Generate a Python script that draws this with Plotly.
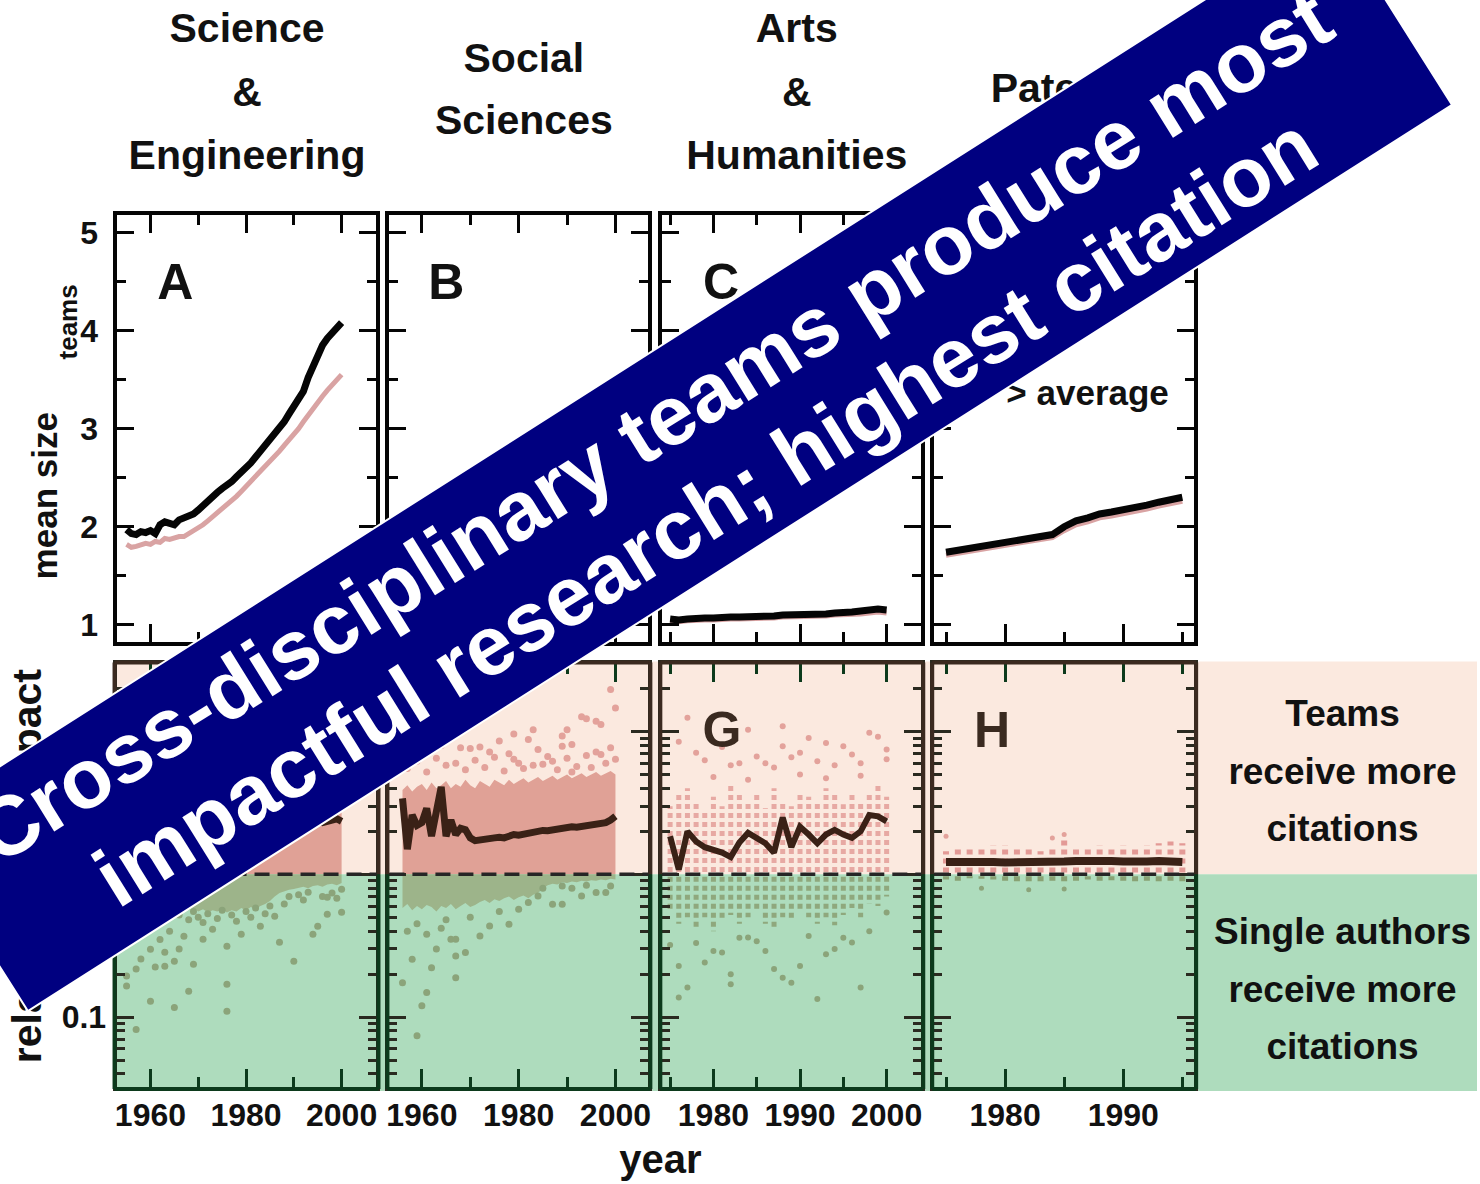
import numpy as np
import plotly.graph_objects as go

W, H = 1480, 1184
FONT = "Liberation Sans, Arial, Helvetica, sans-serif"

# ---------------- DATA ----------------
years_se = list(range(1955, 2001))
years_ss = list(range(1956, 2001))
years_ah = list(range(1975, 2001))
years_pat = list(range(1975, 1996))

# top row: mean team size (all teams = black, high-impact teams = pink)
se_size_all = [1.97, 1.93, 1.92, 1.95, 1.94, 1.96, 1.93, 2.02, 2.05, 2.04,
               2.02, 2.07, 2.09, 2.10, 2.13, 2.17, 2.22, 2.27, 2.31, 2.35,
               2.39, 2.42, 2.46, 2.51, 2.55, 2.60, 2.65, 2.71, 2.77, 2.82,
               2.88, 2.94, 3.00, 3.07, 3.15, 3.23, 3.30, 3.38, 3.52, 3.63,
               3.76, 3.85, 3.92, 3.97, 4.02, 4.08]
se_size_hi = [1.82, 1.79, 1.80, 1.81, 1.83, 1.82, 1.85, 1.84, 1.88, 1.87,
              1.89, 1.90, 1.90, 1.93, 1.95, 1.98, 2.02, 2.06, 2.10, 2.14,
              2.18, 2.22, 2.26, 2.31, 2.36, 2.41, 2.46, 2.51, 2.56, 2.61,
              2.66, 2.71, 2.77, 2.83, 2.89, 2.93, 3.00, 3.07, 3.14, 3.21,
              3.27, 3.33, 3.39, 3.45, 3.50, 3.55]
ss_size_all = [1.28, 1.30, 1.29, 1.31, 1.33, 1.32, 1.35, 1.36, 1.35, 1.38,
               1.40, 1.39, 1.42, 1.44, 1.43, 1.46, 1.48, 1.47, 1.50, 1.52,
               1.53, 1.55, 1.56, 1.58, 1.60, 1.61, 1.63, 1.65, 1.66, 1.68,
               1.70, 1.72, 1.73, 1.75, 1.77, 1.79, 1.80, 1.82, 1.84, 1.86,
               1.88, 1.90, 1.92, 1.94, 1.97]
ss_size_hi = [1.24, 1.26, 1.25, 1.27, 1.28, 1.28, 1.30, 1.31, 1.31, 1.33,
              1.35, 1.35, 1.37, 1.39, 1.39, 1.41, 1.43, 1.43, 1.45, 1.47,
              1.48, 1.50, 1.51, 1.53, 1.55, 1.56, 1.58, 1.59, 1.61, 1.63,
              1.64, 1.66, 1.68, 1.69, 1.71, 1.73, 1.74, 1.76, 1.78, 1.80,
              1.82, 1.84, 1.86, 1.88, 1.90]
ah_size_all = [1.06, 1.05, 1.06, 1.07, 1.07, 1.07, 1.08, 1.08, 1.08, 1.08,
               1.09, 1.09, 1.09, 1.10, 1.10, 1.10, 1.11, 1.11, 1.11, 1.12,
               1.12, 1.13, 1.14, 1.15, 1.16, 1.15]
ah_size_hi = [1.04, 1.03, 1.04, 1.05, 1.05, 1.05, 1.06, 1.06, 1.06, 1.06,
              1.07, 1.07, 1.07, 1.08, 1.08, 1.08, 1.09, 1.09, 1.09, 1.10,
              1.10, 1.10, 1.11, 1.12, 1.13, 1.12]
pat_size_all = [1.74, 1.76, 1.79, 1.80, 1.83, 1.84, 1.86, 1.89, 1.90, 1.92,
                2.00, 2.06, 2.09, 2.13, 2.15, 2.17, 2.20, 2.22, 2.25, 2.27, 2.30]
pat_size_hi = [1.71, 1.73, 1.76, 1.77, 1.80, 1.81, 1.83, 1.86, 1.87, 1.89,
               1.96, 2.02, 2.05, 2.09, 2.11, 2.13, 2.16, 2.18, 2.21, 2.23, 2.26]

# bottom row: relative team impact (RTI) and spread of subfields
se_rti = [1.60, 1.70, 1.50, 1.80, 1.65, 1.75, 1.70, 1.80, 1.75, 1.85,
          1.80, 1.90, 1.85, 1.95, 1.90, 1.95, 2.00, 1.95, 2.00, 2.05,
          2.00, 2.05, 2.10, 2.05, 2.10, 2.10, 2.15, 2.10, 2.15, 2.20,
          2.15, 2.20, 2.20, 2.25, 2.20, 2.25, 2.30, 2.25, 2.30, 2.30,
          2.35, 2.30, 2.35, 2.40, 2.45, 2.35]
se_team_hi = [2.6, 2.8, 2.5, 2.9, 2.7, 2.8, 3.0, 2.7, 2.9, 3.1,
              2.8, 3.0, 3.2, 2.9, 3.1, 3.0, 3.2, 3.1, 2.9, 3.2,
              3.0, 3.3, 3.1, 3.0, 3.2, 3.1, 3.3, 3.0, 3.2, 3.1,
              3.3, 3.1, 3.2, 3.0, 3.2, 3.1, 3.3, 3.0, 3.1, 3.2,
              3.0, 3.1, 2.9, 3.0, 3.1, 3.0]
se_single_lo = [0.70, 0.66, 0.72, 0.64, 0.68, 0.62, 0.66, 0.60, 0.64, 0.58,
                0.62, 0.57, 0.60, 0.56, 0.58, 0.55, 0.57, 0.54, 0.56, 0.55,
                0.57, 0.54, 0.56, 0.55, 0.58, 0.56, 0.59, 0.57, 0.60, 0.62,
                0.65, 0.70, 0.74, 0.76, 0.78, 0.79, 0.80, 0.82, 0.80, 0.83,
                0.84, 0.82, 0.85, 0.86, 0.84, 0.87]
se_green_yr = [1955, 1955, 1957, 1957, 1958, 1960, 1960, 1961, 1963, 1963,
               1965, 1965, 1967, 1968, 1969, 1971, 1973, 1976, 1976, 1976,
               1979, 1983, 1986, 1987, 1990, 1994, 1995, 1997, 2000, 2000,
               1997, 1966, 1968, 1969, 1970, 1971, 1972, 1974, 1975, 1977,
               1978, 1980, 1981, 1982, 1984, 1985, 1988, 1989, 1991, 1992,
               1993, 1996, 1998, 1999, 1956, 1958, 1959, 1960, 1962, 1962,
               1964, 1964, 1966]
se_green_val = [0.165, 0.194, 0.217, 0.082, 0.255, 0.129, 0.299, 0.224, 0.285, 0.227,
                0.246, 0.117, 0.368, 0.152, 0.235, 0.351, 0.412, 0.314, 0.170, 0.110,
                0.380, 0.433, 0.508, 0.334, 0.246, 0.380, 0.433, 0.525, 0.542, 0.786,
                0.690, 0.52, 0.48, 0.55, 0.50, 0.46, 0.53, 0.49, 0.56, 0.52,
                0.47, 0.55, 0.50, 0.58, 0.53, 0.60, 0.62, 0.70, 0.72, 0.66,
                0.75, 0.70, 0.74, 0.68, 0.45, 0.38, 0.50, 0.42, 0.35, 0.55,
                0.40, 0.60, 0.30]

ss_rti = [3.4, 1.5, 2.6, 2.2, 2.3, 2.9, 1.85, 2.6, 4.1, 1.85,
          2.4, 1.9, 2.1, 2.05, 1.8, 1.72, 1.75, 1.78, 1.76, 1.80,
          1.82, 1.80, 1.85, 1.90, 1.88, 1.92, 1.95, 1.98, 2.00, 2.03,
          2.02, 2.05, 2.08, 2.10, 2.12, 2.15, 2.14, 2.17, 2.20, 2.22,
          2.24, 2.26, 2.30, 2.40, 2.55]
ss_team_hi = [3.9, 4.2, 3.8, 4.1, 4.3, 3.9, 4.4, 4.0, 4.2, 4.5,
              4.0, 4.3, 4.1, 4.6, 4.2, 4.0, 4.5, 4.3, 4.1, 4.6,
              4.4, 4.2, 4.6, 4.3, 4.5, 4.7, 4.4, 4.6, 4.8, 4.5,
              4.7, 4.9, 4.6, 4.8, 5.0, 4.7, 4.9, 5.1, 4.8, 5.0,
              5.2, 4.9, 5.1, 5.3, 5.0]
ss_single_lo = [0.58, 0.62, 0.56, 0.60, 0.57, 0.61, 0.59, 0.55, 0.60, 0.58,
                0.62, 0.57, 0.60, 0.63, 0.59, 0.61, 0.64, 0.66, 0.63, 0.67,
                0.65, 0.68, 0.70, 0.66, 0.69, 0.71, 0.68, 0.72, 0.74, 0.80,
                0.84, 0.86, 0.85, 0.88, 0.87, 0.89, 0.88, 0.90, 0.89, 0.91,
                0.90, 0.92, 0.91, 0.93, 0.92]
ss_pink_yr = [1999, 2000, 1993, 1994, 1996, 1997, 1983, 1990, 1982, 1976,
              1968, 1970, 1972, 1989, 1989, 1991, 1999, 1997, 1984, 1986,
              1957, 1959, 1961, 1963, 1965, 1967, 1969, 1971, 1973, 1975,
              1977, 1978, 1980, 1981, 1985, 1987, 1988, 1990, 1992, 1994,
              1995, 1996, 1998, 2000, 1974, 1979, 1983, 1991, 1960, 1964,
              1966, 1979]
ss_pink_val = [19.7, 14.6, 12.7, 12.3, 11.8, 11.2, 10.3, 10.3, 8.8, 8.6,
               7.7, 7.6, 7.8, 9.3, 7.9, 8.1, 7.7, 6.9, 7.5, 6.7,
               5.5, 6.2, 5.2, 6.5, 5.8, 6.0, 5.4, 6.3, 5.6, 6.6,
               5.3, 7.0, 6.0, 5.5, 5.9, 6.2, 5.4, 6.5, 5.7, 6.8,
               5.6, 7.2, 6.0, 6.4, 7.2, 6.4, 5.8, 5.2, 7.0, 8.0,
               9.0, 9.6]
ss_green_yr = [1958, 1956, 1959, 1960, 1961, 1962, 1963, 1967, 1967, 1969,
               1966, 1967, 1972, 1978, 1974, 1987, 1989, 1993, 1996, 1998,
               1989, 1980, 1982, 1984, 1957, 1959, 1961, 1964, 1965, 1970,
               1976, 1985, 1991, 1994, 1999]
ss_green_val = [0.254, 0.174, 0.074, 0.120, 0.149, 0.222, 0.30, 0.189, 0.268, 0.284,
                0.351, 0.351, 0.370, 0.447, 0.435, 0.617, 0.617, 0.705, 0.745, 0.745,
                0.828, 0.57, 0.634, 0.705, 0.40, 0.45, 0.38, 0.42, 0.48, 0.50,
                0.55, 0.80, 0.80, 0.84, 0.83]

ah_rti = [1.85, 1.08, 2.0, 1.7, 1.55, 1.5, 1.42, 1.32, 1.67, 1.95,
          1.8, 1.65, 1.42, 2.5, 1.55, 2.15, 1.9, 1.65, 1.9, 2.05,
          1.9, 1.8, 2.0, 2.6, 2.55, 2.35]
ah_team_col = [3.0, 3.6, 4.0, 3.3, 2.8, 3.5, 3.0, 4.2, 3.6, 3.2,
               3.8, 2.9, 4.0, 3.3, 3.0, 3.8, 3.5, 3.2, 4.0, 3.6,
               3.1, 3.7, 3.3, 3.6, 4.2, 3.5]
ah_single_col = [0.55, 0.45, 0.50, 0.42, 0.50, 0.40, 0.48, 0.52, 0.45, 0.50,
                 0.55, 0.45, 0.42, 0.50, 0.47, 0.55, 0.50, 0.45, 0.50, 0.44,
                 0.52, 0.58, 0.50, 0.62, 0.60, 0.70]
ah_pink_yr = [1977, 1984, 1988, 1978, 1983, 1985, 1986, 1988, 1990, 1991,
              1993, 1995, 1998, 1999, 2000, 2000, 1997, 1976, 1979, 1981,
              1982, 1987, 1989, 1992, 1994, 1996, 1980, 1984, 1990, 1993, 1997]
ah_pink_val = [12.5, 10.3, 10.9, 7.1, 6.0, 6.7, 6.0, 7.9, 7.1, 9.0,
               8.3, 7.9, 9.8, 9.2, 7.5, 6.4, 6.0, 8.5, 6.3, 7.8,
               5.8, 5.6, 6.6, 6.2, 5.8, 6.9, 4.8, 4.6, 5.0, 4.7, 4.9]
ah_green_yr = [1976, 1977, 1976, 1979, 1980, 1981, 1982, 1982, 1984, 1986,
               1987, 1988, 1989, 1990, 1992, 1993, 1994, 1996, 1997, 2000,
               1975, 1978, 1983, 1985, 1991, 1995, 1998]
ah_green_val = [0.228, 0.161, 0.137, 0.241, 0.290, 0.283, 0.20, 0.17, 0.361, 0.290,
                0.217, 0.189, 0.174, 0.228, 0.134, 0.276, 0.30, 0.333, 0.161, 0.54,
                0.32, 0.33, 0.36, 0.34, 0.37, 0.36, 0.40]

pat_rti = [1.22, 1.23, 1.23, 1.22, 1.22, 1.21, 1.21, 1.20, 1.21, 1.22,
           1.23, 1.24, 1.25, 1.24, 1.24, 1.23, 1.22, 1.23, 1.24, 1.23, 1.22]
pat_team_col = [1.45, 1.50, 1.55, 1.50, 1.60, 1.60, 1.55, 1.50, 1.45, 1.55,
                1.75, 1.55, 1.50, 1.60, 1.55, 1.60, 1.50, 1.60, 1.65, 1.70, 1.65]
pat_single_col = [0.92, 0.90, 0.94, 0.93, 0.92, 0.90, 0.88, 0.85, 0.88, 0.90,
                  0.84, 0.90, 0.92, 0.90, 0.91, 0.90, 0.89, 0.90, 0.88, 0.90, 0.86]
pat_pink_yr = [1975, 1985, 1984]
pat_pink_val = [1.85, 1.90, 1.80]
pat_green_yr = [1978, 1982, 1985]
pat_green_val = [0.80, 0.78, 0.79]

# axis ticks
x_major = [[1960, 1980, 2000], [1960, 1980, 2000], [1980, 1990, 2000], [1980, 1990]]
x_minor = [[1970, 1990], [1970, 1990], [1975, 1985, 1995], [1975, 1985, 1995]]
size_ticks = [1, 2, 3, 4, 5]
size_minor = [1.5, 2.5, 3.5, 4.5]
rti_ticks = [0.1, 1, 10]
rti_ticktext = ["0.1", "1", "10"]
rti_minor = [0.04, 0.05, 0.06, 0.07, 0.08, 0.09, 0.2, 0.3, 0.4, 0.5, 0.6, 0.7,
             0.8, 0.9, 2, 3, 4, 5, 6, 7, 8, 9, 20]

# ---------------- LAYOUT GEOMETRY ----------------
col_px = [(114, 375), (388, 648), (662, 922), (935, 1196)]
top_px = (215, 643)
bot_px = (665, 1088)
x_ranges = [[1952.9, 2007.3], [1953.3, 2006.8], [1974.1, 2004.0], [1974.0, 1996.0]]
top_range = [0.82, 5.18]
bot_range = [-1.49, 1.47]

BLACK = "#050505"
PINK_LINE = "#d9a3a3"
RTI_COL = "#3a2116"
PINK_FILL = "#e0a196"
PINK_PT = "#e3a29b"
GREEN_FILL = "#9db48a"
GREEN_PT = "#8ba47a"
PINK_BG = "#fbe9df"
GREEN_BG = "#aedcbd"
BROWN_FRAME = "#3b2a20"
GREEN_FRAME = "#0c3a1c"


def px2x(px):
    return px / W


def px2y(py):
    return 1 - py / H


def xa(i):
    return "x" if i == 1 else f"x{i}"


def ya(i):
    return "y" if i == 1 else f"y{i}"


fig = go.Figure()


def line(x, y, i, color, width):
    fig.add_trace(go.Scatter(x=x, y=y, mode="lines", line=dict(color=color, width=width),
                             xaxis=xa(i), yaxis=ya(i), hoverinfo="skip", showlegend=False))


def band(x, lo, hi, i, color):
    fig.add_trace(go.Scatter(x=list(x) + list(x)[::-1], y=list(hi) + list(lo)[::-1],
                             mode="lines", line=dict(width=0), fill="toself", fillcolor=color,
                             xaxis=xa(i), yaxis=ya(i), hoverinfo="skip", showlegend=False))


def pts(x, y, i, color, size=7):
    fig.add_trace(go.Scatter(x=x, y=y, mode="markers",
                             marker=dict(size=size, color=color, line=dict(width=0)),
                             xaxis=xa(i), yaxis=ya(i), hoverinfo="skip", showlegend=False))


def columns(x, start, ends, i, color, width=5):
    xs, ys = [], []
    for xv, e in zip(x, ends):
        xs += [xv, xv, None]
        ys += [start, e, None]
    fig.add_trace(go.Scatter(x=xs, y=ys, mode="lines",
                             line=dict(color=color, width=width, dash="5px,4px"),
                             xaxis=xa(i), yaxis=ya(i), hoverinfo="skip", showlegend=False))


ones = lambda n: [1.0] * n

# top row
line(years_se, se_size_hi, 1, PINK_LINE, 5)
line(years_se, se_size_all, 1, BLACK, 7)
line(years_ss, ss_size_hi, 2, PINK_LINE, 5)
line(years_ss, ss_size_all, 2, BLACK, 7)
line(years_ah, ah_size_hi, 3, PINK_LINE, 5)
line(years_ah, ah_size_all, 3, BLACK, 7)
line(years_pat, pat_size_hi, 4, PINK_LINE, 5)
line(years_pat, pat_size_all, 4, BLACK, 7)

# bottom row
band(years_se, ones(len(years_se)), se_team_hi, 5, PINK_FILL)
band(years_se, se_single_lo, ones(len(years_se)), 5, GREEN_FILL)
pts(se_green_yr, se_green_val, 5, GREEN_PT)
line(years_se, se_rti, 5, RTI_COL, 7)

band(years_ss, ones(len(years_ss)), ss_team_hi, 6, PINK_FILL)
band(years_ss, ss_single_lo, ones(len(years_ss)), 6, GREEN_FILL)
pts(ss_pink_yr, ss_pink_val, 6, PINK_PT)
pts(ss_green_yr, ss_green_val, 6, GREEN_PT)
line(years_ss, ss_rti, 6, RTI_COL, 7)

columns(years_ah, 1.04, ah_team_col, 7, "rgba(226,152,148,0.8)")
columns(years_ah, 0.96, ah_single_col, 7, "rgba(140,162,118,0.9)")
pts(ah_pink_yr, ah_pink_val, 7, PINK_PT, 6)
pts(ah_green_yr, ah_green_val, 7, GREEN_PT, 6)
line(years_ah, ah_rti, 7, RTI_COL, 6)

columns(years_pat, 1.03, pat_team_col, 8, "rgba(225,150,145,0.95)", 6)
columns(years_pat, 0.97, pat_single_col, 8, "rgba(135,158,112,0.95)", 6)
pts(pat_pink_yr, pat_pink_val, 8, PINK_PT, 5)
pts(pat_green_yr, pat_green_val, 8, GREEN_PT, 5)
line(years_pat, pat_rti, 8, RTI_COL, 8)

# canvas texts (drawn below the banner)
TY = 4
canvas_labels = [
    ("Science", 245, 28, 41, "#111"), ("&amp;", 245, 92, 41, "#111"), ("Engineering", 245, 155, 41, "#111"),
    ("Social", 523, 58, 41, "#111"), ("Sciences", 523, 120, 41, "#111"),
    ("Arts", 797, 28, 41, "#111"), ("&amp;", 797, 92, 41, "#111"), ("Humanities", 797, 155, 41, "#111"),
    ("Patents", 1066, 88, 41, "#111"),
    ("A", 173, 283, 50, "#111"), ("B", 445, 283, 50, "#111"), ("C", 721, 283, 50, "#111"),
    ("D", 995, 283, 50, "#111"),
    ("E", 173, 731, 50, "#3a2a20"), ("F", 445, 731, 50, "#3a2a20"), ("G", 722, 731, 50, "#3a2a20"),
    ("H", 993, 731, 50, "#3a2a20"),
    ("&gt; average", 1089, 393, 35, "#111"),
    ("Teams", 1345, 713, 37, "#111"), ("receive more", 1345, 771, 37, "#111"),
    ("citations", 1345, 828, 37, "#111"),
    ("Single authors", 1345, 932, 37, "#111"), ("receive more", 1345, 990, 37, "#111"),
    ("citations", 1345, 1047, 37, "#111"),
    ("year", 660, 1160, 40, "#111"),
]
fig.add_trace(go.Scatter(
    x=[c[1] for c in canvas_labels], y=[c[2] + TY for c in canvas_labels],
    text=["<b>" + c[0] + "</b>" for c in canvas_labels], mode="text",
    textposition="middle center",
    textfont=dict(family=FONT, size=[c[3] for c in canvas_labels], color=[c[4] for c in canvas_labels]),
    xaxis="x9", yaxis="y9", cliponaxis=False, hoverinfo="skip", showlegend=False))

# ---------------- AXES ----------------
TICKFONT = dict(family=FONT, size=32, color="#111", weight="bold")
layout = dict(width=W, height=H, margin=dict(l=0, r=0, t=0, b=0),
              paper_bgcolor="white", plot_bgcolor="rgba(0,0,0,0)", showlegend=False)

for r in range(2):
    for c in range(4):
        i = r * 4 + c + 1
        x0, x1 = col_px[c]
        ytop, ybot = top_px if r == 0 else bot_px
        lc = BLACK if r == 0 else "#2a2a20"
        xtc = BLACK if r == 0 else GREEN_FRAME
        ytc = BLACK if r == 0 else "#2a2a20"
        xk = "xaxis" if i == 1 else f"xaxis{i}"
        yk = "yaxis" if i == 1 else f"yaxis{i}"
        layout[xk] = dict(
            domain=[px2x(x0), px2x(x1)], anchor=ya(i), range=x_ranges[c],
            showgrid=False, zeroline=False, showline=True, linecolor=lc, linewidth=4,
            mirror="allticks", ticks="inside", ticklen=18, tickwidth=3, tickcolor=xtc,
            tickmode="array", tickvals=x_major[c], ticktext=[str(v) for v in x_major[c]],
            showticklabels=(r == 1), tickfont=TICKFONT, ticklabelstandoff=-3,
            minor=dict(ticks="inside", ticklen=10, tickwidth=3, tickcolor=xtc,
                       tickvals=x_minor[c], showgrid=False))
        if r == 0:
            layout[yk] = dict(
                domain=[px2y(ybot), px2y(ytop)], anchor=xa(i), range=top_range,
                showgrid=False, zeroline=False, showline=True, linecolor=lc, linewidth=4,
                mirror="allticks", ticks="inside", ticklen=17, tickwidth=3, tickcolor=ytc,
                tickmode="array", tickvals=size_ticks, ticktext=[str(v) for v in size_ticks],
                showticklabels=(c == 0), tickfont=TICKFONT, ticklabelstandoff=8,
                minor=dict(ticks="inside", ticklen=9, tickwidth=3, tickcolor=ytc,
                           tickvals=size_minor, showgrid=False))
        else:
            layout[yk] = dict(
                domain=[px2y(ybot), px2y(ytop)], anchor=xa(i), type="log", range=bot_range,
                showgrid=False, zeroline=False, showline=True, linecolor=lc, linewidth=4,
                mirror="allticks", ticks="inside", ticklen=17, tickwidth=3, tickcolor=ytc,
                tickmode="array", tickvals=rti_ticks, ticktext=rti_ticktext,
                showticklabels=(c == 0), tickfont=TICKFONT, ticklabelstandoff=0,
                minor=dict(ticks="inside", ticklen=8, tickwidth=2.5, tickcolor=ytc,
                           tickvals=rti_minor, showgrid=False))

# full-figure canvas axes (pixel coordinates)
layout["xaxis9"] = dict(domain=[0, 1], range=[0, W], anchor="y9", visible=False)
layout["yaxis9"] = dict(domain=[0, 1], range=[H, 0], anchor="free", position=46 / W,
                        showgrid=False, zeroline=False, showline=False, ticks="",
                        tickmode="array", tickvals=[873],
                        ticktext=["<b>relative team impact</b>"], tickangle=-90,
                        tickfont=dict(family=FONT, size=41, color="#111"))

# ---------------- SHAPES ----------------
shapes = []
py_one = bot_px[1] - (0 - bot_range[0]) / (bot_range[1] - bot_range[0]) * (bot_px[1] - bot_px[0])
shapes.append(dict(type="rect", xref="paper", yref="paper", x0=px2x(112), x1=1,
                   y0=px2y(662), y1=px2y(py_one), fillcolor=PINK_BG, line=dict(width=0), layer="below"))
shapes.append(dict(type="rect", xref="paper", yref="paper", x0=px2x(112), x1=1,
                   y0=px2y(py_one), y1=px2y(1092), fillcolor=GREEN_BG, line=dict(width=0), layer="below"))

for c in range(4):
    x0, x1 = col_px[c]
    yt, yb = bot_px
    segs = [
        ((x0 - 2, yt - 2), (x1 + 2, yt - 2), BROWN_FRAME),
        ((x0 - 2, yb + 2), (x1 + 2, yb + 2), GREEN_FRAME),
        ((x0 - 2, yt - 2), (x0 - 2, py_one), BROWN_FRAME),
        ((x0 - 2, py_one), (x0 - 2, yb + 2), GREEN_FRAME),
        ((x1 + 2, yt - 2), (x1 + 2, py_one), BROWN_FRAME),
        ((x1 + 2, py_one), (x1 + 2, yb + 2), GREEN_FRAME),
    ]
    for (ax_, ay_), (bx_, by_), colr in segs:
        shapes.append(dict(type="line", xref="paper", yref="paper",
                           x0=px2x(ax_), y0=px2y(ay_), x1=px2x(bx_), y1=px2y(by_),
                           line=dict(color=colr, width=4), layer="above"))
    shapes.append(dict(type="line", xref="paper", yref="paper",
                       x0=px2x(x0), x1=px2x(x1), y0=px2y(py_one), y1=px2y(py_one),
                       line=dict(color="#262626", width=3.5, dash="15px,8px"), layer="above"))

# banner
b_ang = np.arctan2(1012 - 105, 1455 - 25)
nvec = np.array([np.sin(b_ang), np.cos(b_ang)])
BL = np.array([25.0, 1012.0])
BR = np.array([1455.0, 105.0])
TL = BL - nvec * 222
TR = BR - nvec * 222
path = "M {} {} L {} {} L {} {} L {} {} Z".format(
    *[v for p in (BL, BR, TR, TL) for v in (px2x(p[0]), px2y(p[1]))])
shapes.append(dict(type="path", xref="paper", yref="paper", path=path,
                   fillcolor="#000080", line=dict(color="white", width=2), layer="above"))
layout["shapes"] = shapes

# ---------------- ANNOTATIONS ----------------
t_ang = 31.8
tn = np.array([np.sin(np.deg2rad(t_ang)), np.cos(np.deg2rad(t_ang))])
center = np.array([679.0, 469.0])
l1 = center - tn * 50
l2 = center + tn * 50
annotations = [
    dict(x=px2x(42), y=px2y(496), xref="paper", yref="paper", showarrow=False,
         text="<b>mean size</b>", textangle=-90,
         font=dict(family=FONT, size=35, color="#111"), xanchor="center", yanchor="middle"),
    dict(x=px2x(65), y=px2y(322), xref="paper", yref="paper", showarrow=False,
         text="<b>teams</b>", textangle=-90,
         font=dict(family=FONT, size=26, color="#111"), xanchor="center", yanchor="middle"),
    dict(x=px2x(l1[0]), y=px2y(l1[1]), xref="paper", yref="paper", showarrow=False,
         text="<b>Cross-disciplinary teams produce most</b>", textangle=-t_ang,
         font=dict(family=FONT, size=84, color="white"), xanchor="center", yanchor="middle"),
    dict(x=px2x(l2[0]), y=px2y(l2[1]), xref="paper", yref="paper", showarrow=False,
         text="<b>impactful research; highest citation</b>", textangle=-t_ang,
         font=dict(family=FONT, size=84, color="white"), xanchor="center", yanchor="middle"),
]
layout["annotations"] = annotations

fig.update_layout(**layout)
fig.write_html("out.html", config={"displayModeBar": False},
               post_script="document.body.style.margin='0px';document.body.style.padding='0px';")
